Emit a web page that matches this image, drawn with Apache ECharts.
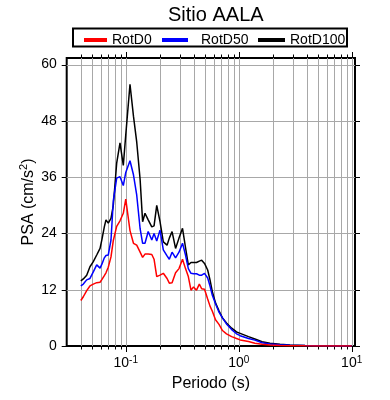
<!DOCTYPE html>
<html>
<head>
<meta charset="utf-8">
<script src="https://cdn.jsdelivr.net/npm/echarts@6/dist/echarts.min.js"></script>
<style>
html, body { margin: 0; padding: 0; background: #fff; }
#main { width: 390px; height: 400px; }
</style>
</head>
<body>
<div id="main"></div>
<script>
// periodo (s) y PSA (cm/s2)
var periods = [0.040, 0.0421, 0.0451, 0.0482, 0.0516, 0.0553, 0.0592, 0.0616, 0.0646, 0.0668,
  0.0700, 0.0740, 0.0776, 0.0831, 0.0889, 0.0951, 0.100, 0.109, 0.117, 0.125,
  0.134, 0.141, 0.148, 0.158, 0.170, 0.178, 0.188, 0.201, 0.215, 0.232,
  0.243, 0.257, 0.276, 0.296, 0.318, 0.338, 0.358, 0.378, 0.398, 0.423,
  0.448, 0.470, 0.498, 0.531, 0.557, 0.584, 0.623, 0.669, 0.718, 0.779,
  0.866, 0.956, 1.03, 1.22, 1.39, 1.61, 1.89, 2.32, 2.84, 3.86,
  5.24, 7.12, 10.0];
var rotd0 = [9.7, 10.5, 11.8, 12.8, 13.2, 13.5, 13.6, 14.2, 15.0, 15.6,
  16.8, 19.0, 22.5, 25.5, 26.7, 28.3, 31.3, 24.6, 21.9, 21.5,
  20.0, 18.9, 19.6, 19.6, 19.5, 18.5, 14.8, 15.1, 15.5, 14.4,
  13.4, 13.5, 15.6, 16.5, 18.5, 16.5, 14.8, 11.9, 12.6, 11.9,
  13.2, 12.2, 12.1, 10.0, 8.5, 7.4, 5.6, 4.6, 3.3, 2.6,
  2.0, 1.6, 1.3, 0.95, 0.6, 0.35, 0.2, 0.12, 0.07, 0.04,
  0.02, 0.01, 0.01];
var rotd50 = [12.8, 13.2, 14.1, 14.4, 15.8, 17.3, 16.6, 17.5, 18.8, 19.3,
  19.4, 22.6, 31.0, 35.8, 36.1, 34.2, 37.0, 39.5, 36.5, 32.2,
  25.0, 21.9, 21.9, 24.4, 22.6, 24.0, 22.4, 24.7, 20.5, 19.2,
  18.5, 20.0, 18.8, 20.0, 21.9, 19.4, 16.5, 15.5, 15.4, 15.4,
  15.1, 15.1, 15.5, 14.5, 12.8, 10.8, 9.0, 7.2, 6.0, 4.7,
  3.5, 2.6, 2.2, 1.6, 1.25, 0.7, 0.43, 0.25, 0.15, 0.08,
  0.04, 0.02, 0.01];
var rotd100 = [13.9, 14.3, 15.1, 16.9, 18.0, 19.4, 20.8, 22.8, 25.4, 26.9,
  26.2, 27.2, 30.0, 39.0, 43.3, 38.5, 45.0, 55.8, 49.0, 43.5,
  35.5, 26.5, 28.3, 26.9, 25.4, 25.6, 30.0, 26.5, 22.2, 21.5,
  23.0, 24.4, 20.8, 23.0, 25.1, 21.0, 17.3, 17.8, 17.8, 17.8,
  18.1, 18.3, 17.6, 16.2, 14.1, 11.6, 9.2, 7.5, 6.0, 4.9,
  3.8, 3.0, 2.7, 2.0, 1.5, 0.9, 0.57, 0.35, 0.2, 0.1,
  0.05, 0.03, 0.02];

var xTicks = [0.04, 0.05, 0.06, 0.07, 0.08, 0.09, 0.1, 0.2, 0.3, 0.4, 0.5, 0.6, 0.7, 0.8, 0.9,
  1, 2, 3, 4, 5, 6, 7, 8, 9, 10];
var yTicks = [0, 12, 24, 36, 48, 60];

var xMin = 0.03, xMax = 10.7, yMin = 0, yMax = 61.4;
var font = 'Liberation Sans, Arial, Helvetica, sans-serif';

function pairs(vals) {
  return periods.map(function (p, i) { return [p, vals[i]]; });
}
function crisp(v) { return Math.round(v) + 0.5; }

// rejilla y marcas del eje x (log)
function renderXGrid(params, api) {
  var v = api.value(0);
  var b = api.coord([v, yMin]);
  var t = api.coord([v, yMax]);
  var lg = Math.log10(v);
  var len = Math.abs(lg - Math.round(lg)) < 1e-6 ? 6 : 3.5;
  var x = crisp(b[0]);
  return {
    type: 'group',
    children: [
      { type: 'line', shape: { x1: x, y1: t[1], x2: x, y2: b[1] }, style: { stroke: '#a8a8a8', lineWidth: 1 } },
      { type: 'line', shape: { x1: x, y1: b[1], x2: x, y2: b[1] + len }, style: { stroke: '#000', lineWidth: 1 } },
      { type: 'line', shape: { x1: x, y1: t[1], x2: x, y2: t[1] - len }, style: { stroke: '#000', lineWidth: 1 } }
    ]
  };
}
function renderYGrid(params, api) {
  var v = api.value(1);
  var l = api.coord([xMin, v]);
  var r = api.coord([xMax, v]);
  var y = crisp(l[1]);
  var ch = [
    { type: 'line', shape: { x1: l[0] - 5, y1: y, x2: l[0], y2: y }, style: { stroke: '#000', lineWidth: 1 } },
    { type: 'line', shape: { x1: r[0], y1: y, x2: r[0] + 5, y2: y }, style: { stroke: '#000', lineWidth: 1 } }
  ];
  if (v > yMin) {
    ch.push({ type: 'line', shape: { x1: l[0], y1: y, x2: r[0], y2: y }, style: { stroke: '#a8a8a8', lineWidth: 1 } });
  }
  return { type: 'group', children: ch };
}

var chart = echarts.init(document.getElementById('main'));
var option = {
  animation: false,
  backgroundColor: '#fff',
  textStyle: { fontFamily: font },
  title: {
    text: 'Sitio AALA',
    left: 163,
    top: 0,
    textStyle: { fontFamily: font, fontSize: 20, fontWeight: 'normal', color: '#000' }
  },
  legend: [
    {
      data: ['RotD0'], left: 79, top: 28, icon: 'rect', itemWidth: 23, itemHeight: 4,
      selectedMode: false, textStyle: { fontFamily: font, fontSize: 14, color: '#000' }
    },
    {
      data: ['RotD50'], left: 157, top: 28, icon: 'rect', itemWidth: 26, itemHeight: 4,
      selectedMode: false,
      formatter: '{a|RotD50}',
      textStyle: { fontFamily: font, fontSize: 14, color: '#000', rich: { a: { fontFamily: font, fontSize: 14, padding: [0, 0, 0, 8] } } }
    },
    {
      data: ['RotD100'], left: 253, top: 28, icon: 'rect', itemWidth: 27, itemHeight: 4,
      selectedMode: false, textStyle: { fontFamily: font, fontSize: 14, color: '#000' }
    }
  ],
  graphic: [
    { type: 'rect', shape: { x: 73, y: 28.5, width: 274, height: 18 }, style: { fill: 'none', stroke: '#000', lineWidth: 2 }, z: 100 }
  ],
  grid: {
    left: 66.7, right: 35, top: 58, bottom: 54,
    show: true, borderColor: '#000', borderWidth: 2, backgroundColor: 'transparent'
  },
  xAxis: {
    type: 'log',
    min: xMin,
    max: xMax,
    name: 'Periodo (s)',
    nameLocation: 'middle',
    nameGap: 30,
    nameTextStyle: { fontFamily: font, fontSize: 16, color: '#000' },
    axisLine: { show: false },
    axisTick: { show: false },
    splitLine: { show: false },
    axisLabel: {
      margin: 9,
      showMinLabel: false,
      showMaxLabel: false,
      color: '#000',
      formatter: function (v) {
        var e = Math.round(Math.log10(v));
        return '{b|10}{s|' + (e < 0 ? '-' : '') + Math.abs(e) + '}';
      },
      rich: {
        b: { fontFamily: font, fontSize: 14, color: '#000' },
        s: { fontFamily: font, fontSize: 10, color: '#000', padding: [0, 0, 7, 0] }
      }
    }
  },
  yAxis: {
    type: 'value',
    min: yMin,
    max: yMax,
    interval: 12,
    name: '{n|PSA (cm/s}{s|2}{n|)}',
    nameLocation: 'middle',
    nameGap: 29,
    nameMoveOverlap: false,
    nameTextStyle: {
      rich: {
        n: { fontFamily: font, fontSize: 16, color: '#000' },
        s: { fontFamily: font, fontSize: 11, color: '#000', padding: [0, 0, 8, 0] }
      }
    },
    axisLine: { show: false },
    axisTick: { show: false },
    splitLine: { show: false },
    axisLabel: {
      margin: 10,
      showMaxLabel: false,
      fontFamily: font,
      fontSize: 14,
      color: '#000'
    }
  },
  series: [
    {
      type: 'custom', name: 'xgrid', renderItem: renderXGrid, clip: false, silent: true, z: 1,
      data: xTicks.map(function (v) { return [v, yMin]; })
    },
    {
      type: 'custom', name: 'ygrid', renderItem: renderYGrid, clip: false, silent: true, z: 1,
      data: yTicks.map(function (v) { return [xMin, v]; })
    },
    {
      name: 'RotD100', type: 'line', data: pairs(rotd100), showSymbol: false, z: 3,
      color: '#000', lineStyle: { color: '#000', width: 1.5 }
    },
    {
      name: 'RotD50', type: 'line', data: pairs(rotd50), showSymbol: false, z: 4,
      color: '#0000ff', lineStyle: { color: '#0000ff', width: 1.5 }
    },
    {
      name: 'RotD0', type: 'line', data: pairs(rotd0), showSymbol: false, z: 5,
      color: '#ff0000', lineStyle: { color: '#ff0000', width: 1.5 }
    }
  ]
};
chart.setOption(option);
</script>
</body>
</html>
